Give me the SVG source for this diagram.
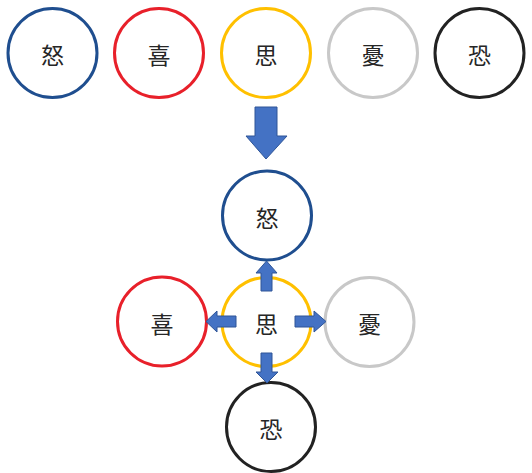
<svg xmlns="http://www.w3.org/2000/svg" width="532" height="473" viewBox="0 0 532 473">
<style>
.c{fill:#fff;stroke-width:3}
.t{font-family:"Noto Sans CJK SC","Noto Sans CJK JP",sans-serif;font-size:23px;fill:#262626;text-anchor:middle;dominant-baseline:central}
.a{fill:#4472C4;stroke:#2F5597;stroke-width:1}
.blue{stroke:#1F4E8F}.red{stroke:#E8202A}.yel{stroke:#FFC000}.gray{stroke:#C8C8C8}.blk{stroke:#222}
</style>
<rect width="532" height="473" fill="#fff"/>
<g id="top-nu"><circle class="c blue" cx="52.5" cy="53" r="44.5"/><text class="t" x="52.5" y="54">怒</text></g>
<g id="top-xi"><circle class="c red" cx="159" cy="53" r="44.5"/><text class="t" x="159" y="54">喜</text></g>
<g id="top-si"><circle class="c yel" cx="266" cy="53" r="44.5"/><text class="t" x="266" y="54">思</text></g>
<g id="top-you"><circle class="c gray" cx="373" cy="53" r="44.5"/><text class="t" x="373" y="54">憂</text></g>
<g id="top-kong"><circle class="c blk" cx="479.5" cy="53" r="44.5"/><text class="t" x="479.5" y="54">恐</text></g>
<g id="nu"><circle class="c blue" cx="267" cy="215.5" r="44.5"/><text class="t" x="267" y="216.5">怒</text></g>
<g id="xi"><circle class="c red" cx="162" cy="321.5" r="44.5"/><text class="t" x="162" y="322.5">喜</text></g>
<g id="si"><circle class="c yel" cx="266.5" cy="322" r="44.5"/><text class="t" x="266.5" y="323">思</text></g>
<g id="you"><circle class="c gray" cx="369.5" cy="322" r="44.5"/><text class="t" x="369.5" y="323">憂</text></g>
<g id="kong"><circle class="c blk" cx="271" cy="427" r="44.5"/><text class="t" x="271" y="428">恐</text></g>
<g id="connectors">
<polygon class="a" points="255,107 277,107 277,136 287,136 266,159 246,136 255,136"/>
<polygon class="a" points="261,291 272,291 272,273 277,273 266.5,261 256,273 261,273"/>
<polygon class="a" points="236,316 236,327 217,327 217,332 206,321.5 217,311 217,316"/>
<polygon class="a" points="295,316 295,327 314,327 314,332 326,321.5 314,311 314,316"/>
<polygon class="a" points="261,353 272,353 272,372 278,372 267,383 256,372 261,372"/>
</g>
</svg>
